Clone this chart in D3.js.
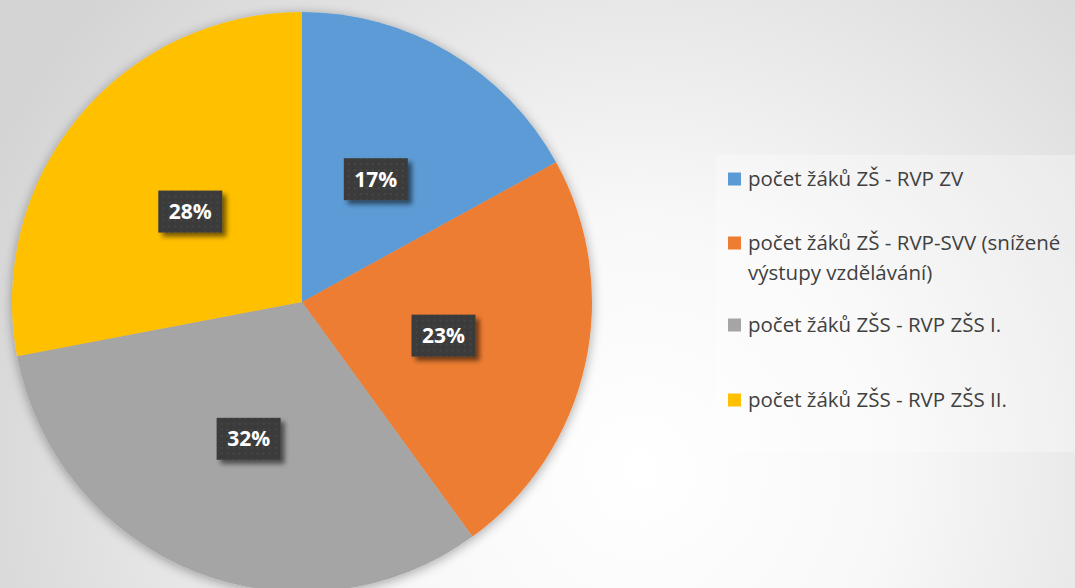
<!DOCTYPE html>
<html><head><meta charset="utf-8">
<script src="https://cdn.jsdelivr.net/npm/d3@7"></script>
<style>html,body{margin:0;padding:0;overflow:hidden;}svg{display:block;}</style>
</head><body>
<svg id="c" width="1075" height="588"></svg>
<script>
const categories = ["počet žáků ZŠ - RVP ZV", "počet žáků ZŠ - RVP-SVV (snížené výstupy vzdělávání)", "počet žáků ZŠS - RVP ZŠS I.", "počet žáků ZŠS - RVP ZŠS II."];
const legendLines = [["počet žáků ZŠ - RVP ZV"], ["počet žáků ZŠ - RVP-SVV (snížené", "výstupy vzdělávání)"], ["počet žáků ZŠS - RVP ZŠS I."], ["počet žáků ZŠS - RVP ZŠS II."]];
const values = [17, 23, 32, 28];
const colors = ["#5b9bd5", "#ed7d31", "#a5a5a5", "#ffc000"];

const W = 1075, H = 588;
const svg = d3.select("#c");
const defs = svg.append("defs");

const bg = defs.append("radialGradient").attr("id", "bg")
  .attr("gradientUnits", "userSpaceOnUse").attr("cx", 640).attr("cy", 470).attr("r", 720);
bg.append("stop").attr("offset", 0).attr("stop-color", "#ffffff");
bg.append("stop").attr("offset", 0.35).attr("stop-color", "#f8f8f8");
bg.append("stop").attr("offset", 1).attr("stop-color", "#d4d4d4");

const sh = defs.append("filter").attr("id", "pieShadow").attr("x", "-20%").attr("y", "-20%").attr("width", "140%").attr("height", "140%");
sh.append("feGaussianBlur").attr("in", "SourceAlpha").attr("stdDeviation", 6).attr("result", "b");
sh.append("feOffset").attr("in", "b").attr("dx", 0).attr("dy", 2).attr("result", "o");
sh.append("feComponentTransfer").attr("in", "o").attr("result", "s").append("feFuncA").attr("type", "linear").attr("slope", 0.35);
const m1 = sh.append("feMerge"); m1.append("feMergeNode").attr("in", "s"); m1.append("feMergeNode").attr("in", "SourceGraphic");

const ls = defs.append("filter").attr("id", "lblShadow").attr("x", "-30%").attr("y", "-30%").attr("width", "170%").attr("height", "170%");
ls.append("feGaussianBlur").attr("in", "SourceAlpha").attr("stdDeviation", 2.5).attr("result", "b");
ls.append("feOffset").attr("in", "b").attr("dx", 4).attr("dy", 4).attr("result", "o");
ls.append("feComponentTransfer").attr("in", "o").attr("result", "s").append("feFuncA").attr("type", "linear").attr("slope", 0.55);
const m2 = ls.append("feMerge"); m2.append("feMergeNode").attr("in", "s"); m2.append("feMergeNode").attr("in", "SourceGraphic");

const pat = defs.append("pattern").attr("id", "dots").attr("patternUnits", "userSpaceOnUse").attr("width", 6).attr("height", 6);
pat.append("rect").attr("width", 6).attr("height", 6).attr("fill", "#3a3a3a");
pat.append("rect").attr("x", 2).attr("y", 2).attr("width", 2).attr("height", 2).attr("fill", "#474747");

svg.append("rect").attr("width", W).attr("height", H).attr("fill", "url(#bg)");

const cx = 302, cy = 302, r = 290;
const pie = d3.pie().sort(null).value(d => d);
const arcs = pie(values);
const arc = d3.arc().innerRadius(0).outerRadius(r);
const g = svg.append("g").attr("transform", `translate(${cx},${cy})`);
g.append("g").attr("filter", "url(#pieShadow)").selectAll("path").data(arcs).join("path")
  .attr("d", arc).attr("fill", (d, i) => colors[i]);

const total = d3.sum(values);
const lblArc = d3.arc().innerRadius(r * 0.5).outerRadius(r * 0.5);
const lg = g.selectAll("g.lbl").data(arcs).join("g").attr("class", "lbl")
  .attr("transform", d => { const c = lblArc.centroid(d); return `translate(${c[0]},${c[1] + 2})`; });
lg.append("rect").attr("x", -32).attr("y", -21).attr("width", 64).attr("height", 42)
  .attr("fill", "url(#dots)").attr("filter", "url(#lblShadow)");
lg.append("text").attr("text-anchor", "middle").attr("dy", "0.36em")
  .attr("font-family", "Open Sans").attr("font-weight", "bold").attr("font-size", 21).attr("fill", "#fff")
  .text(d => Math.round(d.value / total * 100) + "%");

// legend
svg.append("rect").attr("x", 716).attr("y", 155).attr("width", 380).attr("height", 297)
  .attr("fill", "#ffffff").attr("fill-opacity", 0.3);
const rowY = [179, 243, 325, 400];
const leg = svg.append("g").selectAll("g").data(categories).join("g")
  .attr("transform", (d, i) => `translate(728,${rowY[i]})`);
leg.append("rect").attr("x", 0).attr("y", -6.5).attr("width", 13).attr("height", 13).attr("fill", (d, i) => colors[i]);
leg.append("text").attr("x", 20).attr("font-family", "Open Sans").attr("font-size", 20.5).attr("fill", "#404040")
  .selectAll("tspan").data((d, i) => legendLines[i]).join("tspan")
  .attr("x", 20).attr("y", (d, j) => j * 30).attr("dy", "0.35em").text(d => d);
</script>
</body></html>
